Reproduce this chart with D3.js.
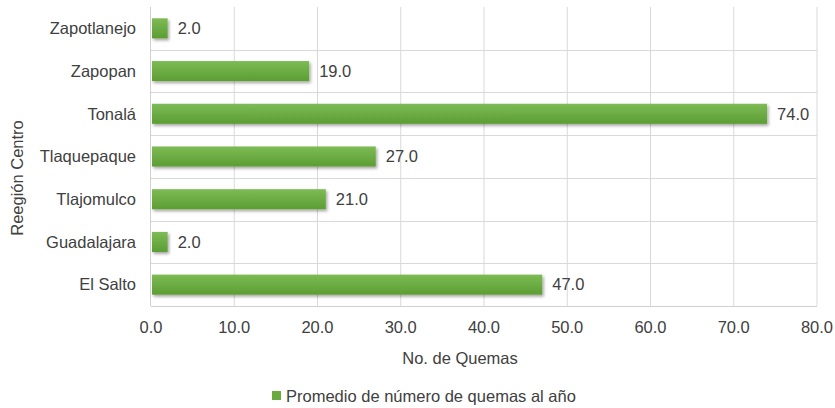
<!DOCTYPE html>
<html><head><meta charset="utf-8">
<script src="https://cdn.jsdelivr.net/npm/d3@7"></script>
<style>body{margin:0;background:#fff}svg{display:block}text{font-family:"Liberation Sans",Arial,sans-serif;fill:#404040}</style>
</head><body><svg id="c" width="835" height="408"></svg>
<script>
const categories = ["Zapotlanejo","Zapopan","Tonalá","Tlaquepaque","Tlajomulco","Guadalajara","El Salto"];
const values = [2,19,74,27,21,2,47];
const xTicks = [0,10,20,30,40,50,60,70,80];
const seriesName = "Promedio de número de quemas al año";
const xTitle = "No. de Quemas";
const yTitle = "Reegión Centro";

const FS = 16.5;
const svg = d3.select("#c");
const m = {l:151, r:817, t:7, b:306};
const x = d3.scaleLinear().domain([0,80]).range([m.l,m.r]);
const y = d3.scaleBand().domain(categories).range([m.t,m.b]).paddingInner(0.53).paddingOuter(0.265);
const band = d3.scaleBand().domain(categories).range([m.t,m.b]);

const defs = svg.append("defs");
const g = defs.append("linearGradient").attr("id","gr").attr("x1",0).attr("y1",0).attr("x2",0).attr("y2",1);
g.append("stop").attr("offset","0%").attr("stop-color","#7dbb55");
g.append("stop").attr("offset","100%").attr("stop-color","#5c9d33");
const f = defs.append("filter").attr("id","sh").attr("x","-10%").attr("y","-30%").attr("width","130%").attr("height","180%");
f.append("feDropShadow").attr("dx",1.5).attr("dy",2).attr("stdDeviation",1.5).attr("flood-color","#000").attr("flood-opacity",0.35);

// grid
svg.append("g").selectAll("line").data(xTicks.slice(1)).join("line")
  .attr("x1",d=>x(d)).attr("x2",d=>x(d)).attr("y1",m.t).attr("y2",m.b)
  .attr("stroke","#d9d9d9").attr("stroke-width",1);
svg.append("g").selectAll("line").data(categories.slice(1)).join("line")
  .attr("x1",m.l).attr("x2",m.r).attr("y1",d=>Math.round(band(d))+0.5).attr("y2",d=>Math.round(band(d))+0.5)
  .attr("stroke","#d9d9d9");
svg.append("line").attr("x1",m.l).attr("x2",m.r).attr("y1",m.b+0.5).attr("y2",m.b+0.5).attr("stroke","#d0d0d0");
svg.append("line").attr("x1",m.l-0.5).attr("x2",m.l-0.5).attr("y1",m.t).attr("y2",m.b).attr("stroke","#d0d0d0");

// bars
svg.append("g").selectAll("rect").data(categories).join("rect")
  .attr("x",x(0)+1).attr("y",d=>y(d)).attr("height",y.bandwidth())
  .attr("width",(d,i)=>x(values[i])-x(0)-1).attr("fill","url(#gr)").attr("filter","url(#sh)");

// value labels
svg.append("g").selectAll("text").data(categories).join("text")
  .attr("x",(d,i)=>x(values[i])+10).attr("y",d=>y(d)+y.bandwidth()/2).attr("dy","0.35em")
  .attr("font-size",FS).text((d,i)=>values[i].toFixed(1));

// category labels
svg.append("g").selectAll("text").data(categories).join("text")
  .attr("x",m.l-15).attr("y",d=>y(d)+y.bandwidth()/2).attr("dy","0.35em").attr("text-anchor","end")
  .attr("font-size",FS).text(d=>d);

// x tick labels
svg.append("g").selectAll("text").data(xTicks).join("text")
  .attr("x",d=>x(d)).attr("y",333).attr("text-anchor","middle").attr("font-size",FS).text(d=>d.toFixed(1));

svg.append("text").attr("x",460).attr("y",364).attr("text-anchor","middle").attr("font-size",FS).text(xTitle);
svg.append("text").attr("transform","translate(23,178) rotate(-90)").attr("text-anchor","middle").attr("font-size",FS).text(yTitle);

// legend
svg.append("rect").attr("x",272).attr("y",391).attr("width",9).attr("height",9).attr("fill","#6aab3e");
svg.append("text").attr("x",286).attr("y",396).attr("dy","0.35em").attr("font-size",FS).text(seriesName);
</script></body></html>
